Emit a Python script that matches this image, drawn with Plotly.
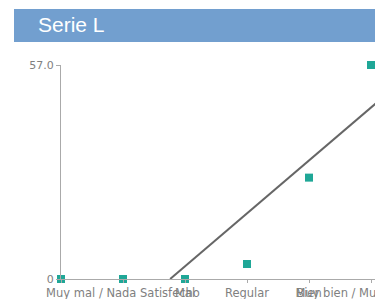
import plotly.graph_objects as go

title = "Serie L"
categories = ["", "Muy mal / Nada Satisfecho", "Mal", "Regular", "Bien", "Muy bien / Muy Satisfecho"]
values = [0, 0, 0, 4, 27, 57]
trend_x = [1.76, 5.3]
trend_y = [0, 49.9]
y_ticks = [0, 57]
y_tick_labels = ["0", "57.0"]

x_idx = list(range(len(categories)))

fig = go.Figure()
fig.add_trace(go.Scatter(
    x=trend_x, y=trend_y, mode="lines",
    line=dict(color="#666666", width=2), hoverinfo="skip", showlegend=False))
fig.add_trace(go.Scatter(
    x=x_idx, y=values, mode="markers",
    marker=dict(symbol="square", size=8, color="#1fa797"),
    cliponaxis=False, showlegend=False))

W, H = 375, 299
l, r, t, b = 61, 0, 65, 20
pw, ph = W - l - r, H - t - b

def px(xp):
    return (xp - l) / pw

def py(yp):
    return (H - b - yp) / ph

fig.add_shape(type="rect", xref="paper", yref="paper",
              x0=px(14), x1=1.02, y0=py(42), y1=py(9),
              fillcolor="#729fcf", line=dict(width=0), layer="below")
fig.add_annotation(text=title, xref="paper", yref="paper",
                   x=px(36), y=py(25), xanchor="left", yanchor="middle",
                   showarrow=False,
                   font=dict(family="Liberation Sans, Arial", size=21, color="white"))

fig.update_layout(
    width=W, height=H,
    margin=dict(l=l, r=r, t=t, b=b, autoexpand=False),
    paper_bgcolor="white", plot_bgcolor="white",
    font=dict(family="DejaVu Sans", size=11, color="#808080"),
    xaxis=dict(range=[0, pw / 62], tickvals=x_idx, ticktext=categories,
               tickangle=0, ticks="outside", ticklen=3, tickcolor="#aaaaaa",
               showline=True, linecolor="#aaaaaa", linewidth=1, automargin=False,
               showgrid=False, zeroline=False, ticklabeloverflow="allow",
               tickfont=dict(family="DejaVu Sans", size=11.5, color="#808080")),
    yaxis=dict(range=[0, 57], tickvals=y_ticks, ticktext=y_tick_labels,
               ticks="outside", ticklen=4, tickcolor="#aaaaaa", automargin=False,
               showline=True, linecolor="#aaaaaa", linewidth=1,
               showgrid=False, zeroline=False,
               tickfont=dict(family="DejaVu Sans", size=11, color="#808080")),
)

fig.write_html("out.html", config={"displayModeBar": False},
               post_script="document.body.style.margin='0';document.body.style.overflow='hidden';")
